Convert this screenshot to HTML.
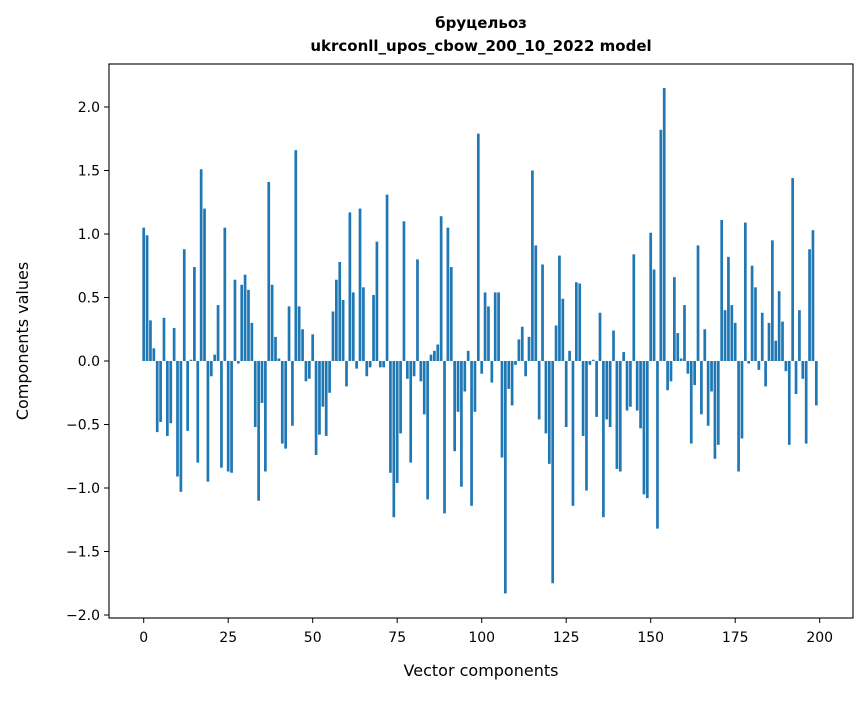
<!DOCTYPE html>
<html><head><meta charset="utf-8"><style>
body{margin:0;background:#fff;}
svg text{font-family:"DejaVu Sans","Liberation Sans",sans-serif;fill:#000;}
</style></head><body>
<svg id="chart" width="867" height="696" xmlns="http://www.w3.org/2000/svg">
<rect width="867" height="696" fill="#fff"/>
<text x="481" y="28" text-anchor="middle" font-size="15" font-weight="bold">бруцельоз</text>
<text x="481" y="51" text-anchor="middle" font-size="15" font-weight="bold">ukrconll_upos_cbow_200_10_2022 model</text>
<g id="bars"></g>
<g id="axes"></g>
<text x="481" y="676" text-anchor="middle" font-size="16">Vector components</text>
<text transform="translate(28,341) rotate(-90)" text-anchor="middle" font-size="16">Components values</text>
</svg>
<script>
const values = [1.05,0.99,0.32,0.10,-0.56,-0.48,0.34,-0.59,-0.49,0.26,-0.91,-1.03,0.88,-0.55,0.01,0.74,-0.80,1.51,1.20,-0.95,-0.12,0.05,0.44,-0.84,1.05,
-0.87,-0.88,0.64,-0.02,0.60,0.68,0.56,0.30,-0.52,-1.10,-0.33,-0.87,1.41,0.60,0.19,0.02,-0.65,-0.69,0.43,-0.51,1.66,0.43,0.25,-0.16,-0.14,
0.21,-0.74,-0.58,-0.36,-0.59,-0.25,0.39,0.64,0.78,0.48,-0.20,1.17,0.54,-0.06,1.20,0.58,-0.12,-0.05,0.52,0.94,-0.05,-0.05,1.31,-0.88,-1.23,
-0.96,-0.57,1.10,-0.14,-0.80,-0.12,0.80,-0.16,-0.42,-1.09,0.05,0.08,0.13,1.14,-1.20,1.05,0.74,-0.71,-0.40,-0.99,-0.24,0.08,-1.14,-0.40,1.79,
-0.10,0.54,0.43,-0.17,0.54,0.54,-0.76,-1.83,-0.22,-0.35,-0.03,0.17,0.27,-0.12,0.19,1.50,0.91,-0.46,0.76,-0.57,-0.81,-1.75,0.28,0.83,0.49,
-0.52,0.08,-1.14,0.62,0.61,-0.59,-1.02,-0.03,0.01,-0.44,0.38,-1.23,-0.46,-0.52,0.24,-0.85,-0.87,0.07,-0.39,-0.36,0.84,-0.39,-0.53,-1.05,-1.08,
1.01,0.72,-1.32,1.82,2.15,-0.23,-0.16,0.66,0.22,0.02,0.44,-0.10,-0.65,-0.19,0.91,-0.42,0.25,-0.51,-0.24,-0.77,-0.66,1.11,0.40,0.82,0.44,
0.30,-0.87,-0.61,1.09,-0.02,0.75,0.58,-0.07,0.38,-0.20,0.30,0.95,0.16,0.55,0.31,-0.08,-0.66,1.44,-0.26,0.40,-0.14,-0.65,0.88,1.03,-0.35];
const xTicks = [0,25,50,75,100,125,150,175,200];
const yTicks = [-2.0,-1.5,-1.0,-0.5,0.0,0.5,1.0,1.5,2.0];
const NS='http://www.w3.org/2000/svg';
const L=109,R=853,T=64,B=618;
function xs(v){return 143.7+v*3.38;}
function ys(v){return 361-v*127;}
const bars=document.getElementById('bars');
values.forEach((v,i)=>{
  const r=document.createElementNS(NS,'rect');
  
  
  const w=0.8*3.38;
  r.setAttribute('x',xs(i)-w/2);
  r.setAttribute('width',w);
  r.setAttribute('y',Math.min(ys(v),ys(0)));
  r.setAttribute('height',Math.abs(ys(v)-ys(0)));
  r.setAttribute('fill','#1f77b4');
  bars.appendChild(r);
});
const ax=document.getElementById('axes');
const frame=document.createElementNS(NS,'rect');


frame.setAttribute('x',L);frame.setAttribute('y',T);frame.setAttribute('width',R-L);frame.setAttribute('height',B-T);
frame.setAttribute('fill','none');frame.setAttribute('stroke','#000');frame.setAttribute('stroke-width','1.1');
ax.appendChild(frame);
xTicks.forEach(t=>{
  const l=document.createElementNS(NS,'line');
  
  
  l.setAttribute('x1',xs(t));l.setAttribute('x2',xs(t));l.setAttribute('y1',B);l.setAttribute('y2',B+5);
  l.setAttribute('stroke','#000');ax.appendChild(l);
  const tx=document.createElementNS(NS,'text');
  
  
  tx.setAttribute('x',xs(t));tx.setAttribute('y',B+24);tx.setAttribute('text-anchor','middle');tx.setAttribute('font-size','14');
  tx.textContent=t;ax.appendChild(tx);
});
yTicks.forEach(t=>{
  const l=document.createElementNS(NS,'line');
  
  
  l.setAttribute('x1',L-5);l.setAttribute('x2',L);l.setAttribute('y1',ys(t));l.setAttribute('y2',ys(t));
  l.setAttribute('stroke','#000');ax.appendChild(l);
  const tx=document.createElementNS(NS,'text');
  
  
  tx.setAttribute('x',L-9);tx.setAttribute('y',ys(t)+5);tx.setAttribute('text-anchor','end');tx.setAttribute('font-size','14');
  tx.textContent=(t<0?'\u2212':'')+Math.abs(t).toFixed(1);ax.appendChild(tx);
});
</script>
</body></html>
